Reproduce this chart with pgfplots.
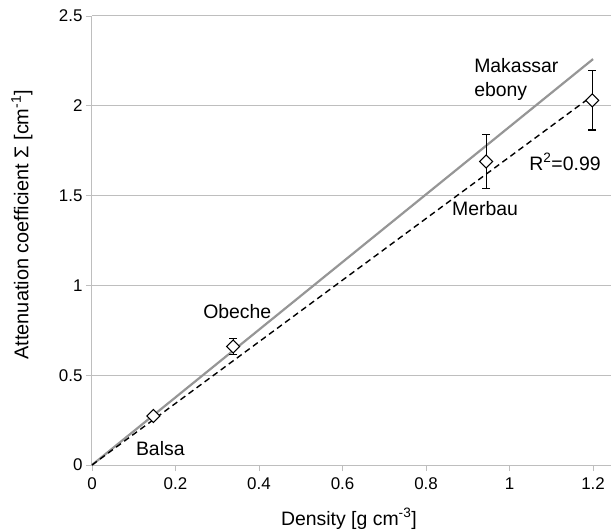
\documentclass[border=0pt]{standalone}
\usepackage{pgfplots}
\pgfplotsset{compat=1.18}
\usepackage{fontspec}
\setmainfont{Liberation Sans}
\definecolor{gline}{RGB}{150,150,150}
\definecolor{grid}{RGB}{190,190,190}
\begin{document}
\begin{tikzpicture}[x=1bp,y=1bp]
\begin{axis}[
  name=ax,
  scale only axis,
  width=519bp, height=449bp,
  xmin=0, xmax=1.243, ymin=0, ymax=2.5,
  axis lines=left,
  axis line style={draw=grid, line width=1bp, -},
  xtick={0,0.2,0.4,0.6,0.8,1,1.2},
  ytick={0,0.5,1,1.5,2,2.5},
  xticklabels={0,0.2,0.4,0.6,0.8,1,1.2},
  yticklabels={0,0.5,1,1.5,2,2.5},
  tick align=outside,
  major tick length=6bp,
  tick style={draw=grid, line width=0.8bp},
  ymajorgrids, grid style={draw=grid, line width=1bp},
  ticklabel style={font=\fontsize{17}{19}\selectfont},
  xticklabel style={yshift=-3bp},
  xlabel={Density [g cm\textsuperscript{-3}]},
  ylabel={Attenuation coefficient Σ [cm\textsuperscript{-1}]},
  label style={font=\fontsize{19.5}{22}\selectfont},
  ylabel style={font=\fontsize{20}{22}\selectfont, at={(axis description cs:-0.135,0.535)}, anchor=center},
  xlabel style={at={(axis description cs:0.495,0)}, anchor=base, yshift=-60bp},
  clip=false,
]
\addplot[gline, line width=2.2bp] coordinates {(0,0) (1.2,2.26)};
\addplot[black, line width=1.4bp, dash pattern=on 6bp off 4bp] coordinates {(0,0) (1.195,2.05)};
\addplot[black, line width=1.2bp, only marks, mark=square*, mark size=4.6bp,
  mark options={fill=white, draw=black, line width=1.1bp, rotate=45},
  error bars/.cd, y dir=both, y explicit, error mark options={rotate=90, mark size=4bp, line width=1.2bp},
  error bar style={line width=1.2bp}]
  coordinates {
    (0.147,0.273) +- (0,0.0)
    (0.338,0.66) +- (0,0.045)
    (0.944,1.69) +- (0,0.15)
    (1.198,2.03) +- (0,0.165)
  };
\node[anchor=north west, align=left, inner sep=0pt, font=\fontsize{19.5}{24}\selectfont] at (axis cs:0.915,2.265) {Makassar\\ebony};
\node[anchor=west, inner sep=0pt, font=\fontsize{19.5}{22}\selectfont] at (axis cs:1.047,1.687) {R\textsuperscript{2}=0.99};
\node[anchor=west, inner sep=0pt, font=\fontsize{19.5}{22}\selectfont] at (axis cs:0.862,1.43) {Merbau};
\node[anchor=west, inner sep=0pt, font=\fontsize{19.5}{22}\selectfont] at (axis cs:0.266,0.852) {Obeche};
\node[anchor=west, inner sep=0pt, font=\fontsize{19.5}{22}\selectfont] at (axis cs:0.105,0.089) {Balsa};
\end{axis}
\pgfresetboundingbox
\path (ax.south west) ++(-92bp,-65bp) rectangle ++(611bp,530bp);
\end{tikzpicture}
\end{document}
